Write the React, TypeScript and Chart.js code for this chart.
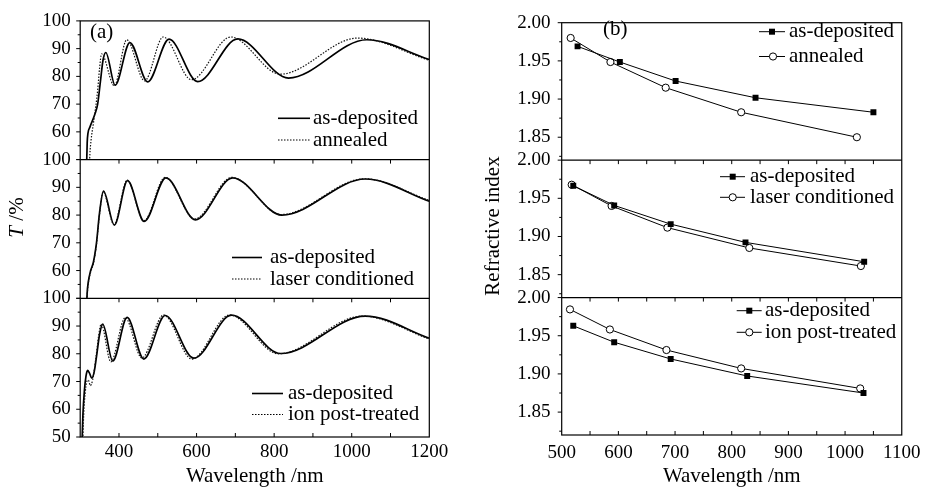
import React, { useEffect, useRef } from 'react';
import { Chart, registerables } from 'chart.js';

Chart.register(...registerables);

const SERIF = '"Liberation Serif", "Times New Roman", Times, serif';

// ---------- (a) transmittance T (%) vs wavelength (nm) ----------
const dep1Wl = [316, 318, 320, 325, 338, 345, 352, 359, 366, 390, 428, 474, 529, 603, 706, 837, 1039, 1200];
const dep1T = [45, 56, 59.5, 61.7, 66.4, 70, 78, 86, 88.6, 76.8, 92.2, 78, 93.4, 78.1, 93.5, 79.4, 93.2, 86.1];
const annWl = [323, 325, 328, 334, 340, 345, 350, 355, 388, 420, 466, 514, 587, 688, 816, 1015, 1200];
const annT = [45, 52, 57, 63, 69, 75, 83, 88.1, 76.6, 93.2, 78.4, 94.2, 78.8, 94.2, 80.8, 93.8, 85.8];

const dep2Wl = [316, 318, 321, 327, 334, 342, 350, 360, 388, 422, 465, 521, 597, 693, 820, 1035, 1200];
const dep2T = [45, 52, 56, 60, 63, 70, 81, 88.6, 76.4, 92.4, 77.7, 93.4, 78.3, 93.4, 80, 93, 85];
const laserWl = [316, 318, 321, 327, 334, 342, 350, 359, 387, 421, 464, 519, 595, 691, 818, 1033, 1200];
const laserT = [45, 51, 55.5, 59.5, 62.5, 69.5, 80.5, 88.4, 76.6, 92.6, 77.9, 93.6, 78.6, 93.6, 80.2, 93.1, 85.3];

const dep3Wl = [304, 307, 311, 315, 319, 324, 330, 336, 343, 350, 358, 384, 421, 464, 519, 593, 690, 817, 1035, 1200];
const dep3T = [45, 58, 67, 72, 74, 73, 71.2, 73.5, 80, 87, 90.7, 77.4, 93.1, 78.1, 93.8, 78.4, 93.9, 80.1, 93.6, 85.6];
const ionWl = [306, 309, 313, 317, 321, 326, 332, 340, 347, 354, 379, 416, 459, 515, 588, 685, 811, 1027, 1200];
const ionT = [45, 58, 66, 70, 70.5, 68.5, 70.5, 78, 86, 90.7, 77.1, 93, 78.5, 94, 78.1, 94, 80, 93.6, 85.3];

const tTicksUpper = [60, 70, 80, 90, 100];
const tTicksLower = [50, 60, 70, 80, 90, 100];
const xTicksA = [400, 600, 800, 1000, 1200];

// ---------- (b) refractive index vs wavelength (nm) ----------
const bDep1Wl = [528, 602.6, 701, 842, 1050];
const bDep1N = [1.969, 1.9485, 1.9236, 1.9017, 1.8827];
const bAnnWl = [515.8, 586, 683.5, 816.7, 1020.8];
const bAnnN = [1.98, 1.9485, 1.9149, 1.8827, 1.85];

const bDep2Wl = [520.4, 592.6, 692.3, 824.3, 1033.7];
const bDep2N = [1.9665, 1.9407, 1.9162, 1.8923, 1.8669];
const bLaserWl = [517.6, 588, 686.5, 831, 1027.9];
const bLaserN = [1.9678, 1.94, 1.9116, 1.885, 1.8613];

const bDep3Wl = [520.4, 592.6, 692.3, 827.3, 1032.5];
const bDep3N = [1.963, 1.9415, 1.9196, 1.8973, 1.875];
const bIonWl = [514.6, 585, 684.8, 816.7, 1026.7];
const bIonN = [1.9845, 1.9582, 1.9313, 1.9072, 1.881];

const nTicks = [1.85, 1.9, 1.95, 2.0];
const xTicksB = [500, 600, 700, 800, 900, 1000, 1100];

const xyOf = (xs: number[], ys: number[]) => xs.map((x, i) => ({ x, y: ys[i] }));

type LegendItem = {
  text: string; x1: number; x2: number; y: number; tx: number;
  dotted?: boolean; marker?: 'rect' | 'circle'; mx?: number; lw?: number;
};

type DecorCfg = {
  yMinor: number; yMajor: number; xStep: number;
  legends: LegendItem[];
  letter: { text: string; x: number; y: number };
  yTitle: (ctx: CanvasRenderingContext2D) => void;
};

function decorPlugin(cfg: DecorCfg) {
  return {
    id: 'decor',
    afterDatasetsDraw(chart: any) {
      const ctx: CanvasRenderingContext2D = chart.ctx;
      const ca = chart.chartArea;
      const xs = chart.scales.x;
      ctx.save();
      ctx.strokeStyle = '#000';
      ctx.lineWidth = 1.2;
      ctx.setLineDash([]);
      ctx.strokeRect(ca.left, ca.top, ca.right - ca.left, ca.bottom - ca.top);
      ['p1', 'p2', 'p3'].forEach((id, k) => {
        const s = chart.scales[id];
        if (k > 0) {
          ctx.beginPath();
          ctx.moveTo(ca.left, s.top);
          ctx.lineTo(ca.right, s.top);
          ctx.stroke();
        }
        const i0 = Math.ceil(s.min / cfg.yMinor - 1e-6);
        const i1 = Math.floor(s.max / cfg.yMinor + 1e-6);
        ctx.lineWidth = 1;
        for (let i = i0; i <= i1; i++) {
          const v = i * cfg.yMinor;
          const py = s.getPixelForValue(v);
          const r = v / cfg.yMajor;
          const major = Math.abs(r - Math.round(r)) < 1e-6;
          ctx.beginPath();
          ctx.moveTo(ca.left - (major ? 4 : 2.5), py);
          ctx.lineTo(ca.left, py);
          ctx.stroke();
        }
        const j0 = Math.ceil(xs.min / cfg.xStep - 1e-6);
        const j1 = Math.floor(xs.max / cfg.xStep + 1e-6);
        for (let j = j0; j <= j1; j++) {
          const px = xs.getPixelForValue(j * cfg.xStep);
          if (px <= ca.left + 1 || px >= ca.right - 1) continue;
          if (k > 0) {
            ctx.beginPath();
            ctx.moveTo(px, s.top);
            ctx.lineTo(px, s.top + 4);
            ctx.stroke();
          }
          if (k === 2) {
            ctx.beginPath();
            ctx.moveTo(px, s.bottom);
            ctx.lineTo(px, s.bottom - 4);
            ctx.stroke();
          }
        }
        ctx.lineWidth = 1.2;
      });

      // legends
      ctx.fillStyle = '#000';
      ctx.font = `21px ${SERIF}`;
      ctx.textAlign = 'left';
      ctx.textBaseline = 'alphabetic';
      for (const it of cfg.legends) {
        ctx.beginPath();
        ctx.lineWidth = it.lw ?? (it.dotted ? 1.2 : 1.6);
        ctx.setLineDash(it.dotted ? [1.5, 1.5] : []);
        ctx.moveTo(it.x1, it.y);
        ctx.lineTo(it.x2, it.y);
        ctx.stroke();
        ctx.setLineDash([]);
        if (it.marker === 'rect' && it.mx !== undefined) {
          ctx.fillStyle = '#000';
          ctx.fillRect(it.mx - 3, it.y - 3, 6, 6);
        } else if (it.marker === 'circle' && it.mx !== undefined) {
          ctx.beginPath();
          ctx.lineWidth = 1;
          ctx.arc(it.mx, it.y, 3.6, 0, Math.PI * 2);
          ctx.fillStyle = '#fff';
          ctx.fill();
          ctx.stroke();
        }
        ctx.fillStyle = '#000';
        ctx.fillText(it.text, it.tx, it.y + 5.7);
      }
      ctx.fillText(cfg.letter.text, cfg.letter.x, cfg.letter.y);
      cfg.yTitle(ctx);
      ctx.restore();
    },
  };
}

function yScale(min: number, max: number, ticks: number[], width: number, pad: number, dec: number) {
  return {
    type: 'linear',
    position: 'left',
    stack: 'panels',
    stackWeight: 1,
    min,
    max,
    offset: false,
    grid: { display: false, drawTicks: false },
    border: { display: false },
    ticks: {
      color: '#000',
      font: { family: SERIF, size: 19 },
      padding: pad,
      autoSkip: false,
      callback: (v: any) => Number(v).toFixed(dec),
    },
    afterBuildTicks: (s: any) => {
      s.ticks = ticks.map((v) => ({ value: v }));
    },
    afterFit: (s: any) => {
      s.width = width;
    },
  };
}

function xScale(min: number, max: number, ticks: number[], height: number, pad: number) {
  return {
    type: 'linear',
    position: 'bottom',
    min,
    max,
    grid: { display: false, drawTicks: false },
    border: { display: false },
    ticks: {
      color: '#000',
      font: { family: SERIF, size: 19 },
      padding: pad,
      autoSkip: false,
      maxRotation: 0,
      callback: (v: any) => String(v),
    },
    afterBuildTicks: (s: any) => {
      s.ticks = ticks.map((v) => ({ value: v }));
    },
    afterFit: (s: any) => {
      s.height = height;
    },
    title: {
      display: true,
      text: 'Wavelength /nm',
      color: '#000',
      font: { family: SERIF, size: 21 },
      padding: 0,
    },
  };
}

const solid = (data: any, axis: string) => ({
  data, yAxisID: axis, borderColor: '#000', borderWidth: 1.7, pointRadius: 0,
  cubicInterpolationMode: 'monotone', fill: false,
});
const dotted = (data: any, axis: string) => ({
  data, yAxisID: axis, borderColor: '#111', borderWidth: 1.2, borderDash: [1.5, 1.5], pointRadius: 0,
  cubicInterpolationMode: 'monotone', fill: false,
});
const squares = (data: any, axis: string) => ({
  data, yAxisID: axis, borderColor: '#000', borderWidth: 1, tension: 0, pointStyle: 'rect',
  pointRadius: 4.2, pointBackgroundColor: '#000', pointBorderColor: '#000', pointBorderWidth: 0, fill: false,
});
const circles = (data: any, axis: string) => ({
  data, yAxisID: axis, borderColor: '#000', borderWidth: 1, tension: 0, pointStyle: 'circle',
  pointRadius: 3.6, pointBackgroundColor: '#fff', pointBorderColor: '#000', pointBorderWidth: 1, fill: false,
});

function leftConfig(): any {
  return {
    type: 'line',
    data: {
      datasets: [
        dotted(xyOf(annWl, annT), 'p1'),
        solid(xyOf(dep1Wl, dep1T), 'p1'),
        dotted(xyOf(laserWl, laserT), 'p2'),
        solid(xyOf(dep2Wl, dep2T), 'p2'),
        dotted(xyOf(ionWl, ionT), 'p3'),
        solid(xyOf(dep3Wl, dep3T), 'p3'),
      ],
    },
    options: {
      responsive: false,
      animation: false,
      devicePixelRatio: 1,
      events: [],
      layout: { padding: { top: 16, right: 33.7, bottom: 0, left: 0 } },
      plugins: { legend: { display: false }, tooltip: { enabled: false } },
      scales: {
        x: xScale(300, 1200, xTicksA, 52, 4),
        p3: yScale(50, 100, tTicksLower, 80.2, 9.5, 0),
        p2: yScale(50, 100, tTicksUpper, 80.2, 9.5, 0),
        p1: yScale(50, 100, tTicksUpper, 80.2, 9.5, 0),
      },
    },
    plugins: [
      decorPlugin({
        yMinor: 5, yMajor: 10, xStep: 100,
        legends: [
          { text: 'as-deposited', x1: 278, x2: 310, y: 118.3, tx: 313 },
          { text: 'annealed', x1: 278, x2: 310, y: 140, tx: 313, dotted: true },
          { text: 'as-deposited', x1: 232, x2: 262, y: 257.5, tx: 270 },
          { text: 'laser conditioned', x1: 232, x2: 262, y: 279, tx: 270, dotted: true },
          { text: 'as-deposited', x1: 252, x2: 283, y: 393.5, tx: 288 },
          { text: 'ion post-treated', x1: 252, x2: 283, y: 414.5, tx: 288, dotted: true },
        ],
        letter: { text: '(a)', x: 90, y: 38 },
        yTitle: (ctx) => {
          ctx.save();
          ctx.translate(23, 217.5);
          ctx.rotate(-Math.PI / 2);
          ctx.fillStyle = '#000';
          ctx.textBaseline = 'alphabetic';
          ctx.textAlign = 'left';
          ctx.font = `italic 21px ${SERIF}`;
          const wT = ctx.measureText('T').width;
          ctx.font = `21px ${SERIF}`;
          const wR = ctx.measureText(' /%').width;
          const start = -(wT + wR) / 2;
          ctx.font = `italic 21px ${SERIF}`;
          ctx.fillText('T', start, 0);
          ctx.font = `21px ${SERIF}`;
          ctx.fillText(' /%', start + wT, 0);
          ctx.restore();
        },
      }),
    ],
  };
}

function rightConfig(): any {
  return {
    type: 'line',
    data: {
      datasets: [
        squares(xyOf(bDep1Wl, bDep1N), 'p1'),
        circles(xyOf(bAnnWl, bAnnN), 'p1'),
        squares(xyOf(bDep2Wl, bDep2N), 'p2'),
        circles(xyOf(bLaserWl, bLaserN), 'p2'),
        squares(xyOf(bDep3Wl, bDep3N), 'p3'),
        circles(xyOf(bIonWl, bIonN), 'p3'),
      ],
    },
    options: {
      responsive: false,
      animation: false,
      devicePixelRatio: 1,
      events: [],
      layout: { padding: { top: 16, right: 24, bottom: 0, left: 0 } },
      plugins: { legend: { display: false }, tooltip: { enabled: false } },
      scales: {
        x: xScale(500, 1100, xTicksB, 54, 6.6),
        p3: yScale(1.82, 2.0, nTicks, 98.7, 11.3, 2),
        p2: yScale(1.82, 2.0, nTicks.slice(0), 98.7, 11.3, 2),
        p1: yScale(1.82, 2.0, nTicks.slice(0), 98.7, 11.3, 2),
      },
    },
    plugins: [
      decorPlugin({
        yMinor: 0.025, yMajor: 0.05, xStep: 50,
        legends: [
          { text: 'as-deposited', x1: 296, x2: 322, y: 31.7, tx: 326, marker: 'rect', mx: 309, lw: 1 },
          { text: 'annealed', x1: 296, x2: 322, y: 56.5, tx: 326, marker: 'circle', mx: 310, lw: 1 },
          { text: 'as-deposited', x1: 257, x2: 282, y: 176.7, tx: 287, marker: 'rect', mx: 269.7, lw: 1 },
          { text: 'laser conditioned', x1: 257, x2: 282, y: 197.3, tx: 287, marker: 'circle', mx: 269.7, lw: 1 },
          { text: 'as-deposited', x1: 273.7, x2: 298.7, y: 310.7, tx: 302, marker: 'rect', mx: 286.3, lw: 1 },
          { text: 'ion post-treated', x1: 273.7, x2: 298.7, y: 332.3, tx: 302, marker: 'circle', mx: 286.3, lw: 1 },
        ],
        letter: { text: '(b)', x: 140, y: 35 },
        yTitle: (ctx) => {
          ctx.save();
          ctx.translate(36, 226);
          ctx.rotate(-Math.PI / 2);
          ctx.fillStyle = '#000';
          ctx.textBaseline = 'alphabetic';
          ctx.textAlign = 'center';
          ctx.font = `21px ${SERIF}`;
          ctx.fillText('Refractive index', 0, 0);
          ctx.restore();
        },
      }),
    ],
  };
}

export default function App() {
  const leftRef = useRef<HTMLCanvasElement>(null);
  const rightRef = useRef<HTMLCanvasElement>(null);
  useEffect(() => {
    const left = new Chart(leftRef.current as HTMLCanvasElement, leftConfig());
    const right = new Chart(rightRef.current as HTMLCanvasElement, rightConfig());
    return () => {
      left.destroy();
      right.destroy();
    };
  }, []);
  return (
    <div style={{ position: 'absolute', left: 0, top: 0, width: 927, height: 489, background: '#fff' }}>
      <canvas
        ref={leftRef}
        width={463}
        height={489}
        style={{ position: 'absolute', left: 0, top: 0, width: 463, height: 489 }}
      />
      <canvas
        ref={rightRef}
        width={464}
        height={489}
        style={{ position: 'absolute', left: 463, top: 0, width: 464, height: 489 }}
      />
    </div>
  );
}
